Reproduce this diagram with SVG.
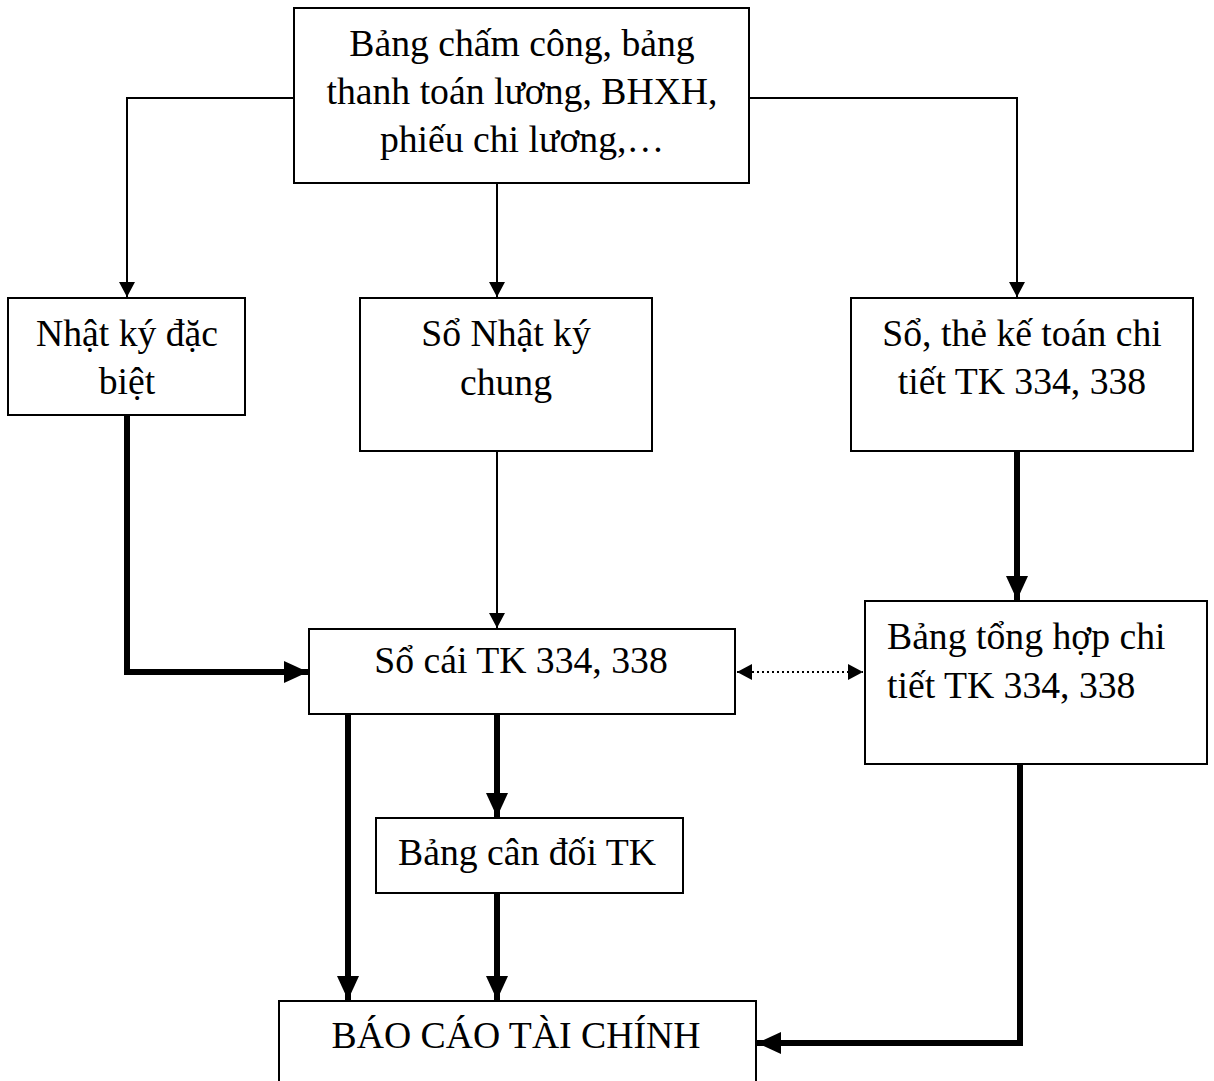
<svg xmlns="http://www.w3.org/2000/svg" width="1214" height="1081" viewBox="0 0 1214 1081">
<style>
.box{fill:#fff;stroke:#000;stroke-width:2}
.t{font-family:"Liberation Serif","Times New Roman",serif;font-size:37.7px;fill:#000}
.c{text-anchor:middle}
.thin{fill:none;stroke:#000;stroke-width:2}
.thick{fill:none;stroke:#000;stroke-width:6}
.dot{fill:none;stroke:#000;stroke-width:2;stroke-dasharray:2 3}
</style>
<defs>
<marker id="a" markerUnits="userSpaceOnUse" markerWidth="16" markerHeight="18" refX="15" refY="9" orient="auto"><path d="M0,1 L15,9 L0,17 Z" fill="#000"/></marker>
<marker id="b" markerUnits="userSpaceOnUse" markerWidth="26" markerHeight="24" refX="24" refY="12" orient="auto"><path d="M0,1 L24,12 L0,23 Z" fill="#000"/></marker>
<marker id="d" markerUnits="userSpaceOnUse" markerWidth="16" markerHeight="18" refX="15" refY="9" orient="auto-start-reverse"><path d="M0,1 L15,9 L0,17 Z" fill="#000"/></marker>
</defs>
<g id="connectors">
<path class="thin" d="M294,98 H127 V297" marker-end="url(#a)"/>
<path class="thin" d="M497,183 V297" marker-end="url(#a)"/>
<path class="thin" d="M749,98 H1017 V297" marker-end="url(#a)"/>
<path class="thick" d="M127,415 V672 H308" marker-end="url(#b)"/>
<path class="thin" d="M497,451 V628" marker-end="url(#a)"/>
<path class="thick" d="M1017,451 V600" marker-end="url(#b)"/>
<path class="dot" d="M737,672 H863" marker-start="url(#d)" marker-end="url(#d)"/>
<path class="thick" d="M348,714 V1000" marker-end="url(#b)"/>
<path class="thick" d="M497,714 V817" marker-end="url(#b)"/>
<path class="thick" d="M497,893 V1000" marker-end="url(#b)"/>
<path class="thick" d="M1020,764 V1043 H757" marker-end="url(#b)"/>
</g>
<g id="n1"><rect class="box" x="294" y="8" width="455" height="175"/>
<text class="t c" x="522" y="56">Bảng chấm công, bảng</text>
<text class="t c" x="522" y="104">thanh toán lương, BHXH,</text>
<text class="t c" x="522" y="152">phiếu chi lương,…</text></g>
<g id="n2"><rect class="box" x="8" y="298" width="237" height="117"/>
<text class="t c" x="127" y="346">Nhật ký đặc</text>
<text class="t c" x="127" y="394">biệt</text></g>
<g id="n3"><rect class="box" x="360" y="298" width="292" height="153"/>
<text class="t c" x="506" y="346">Sổ Nhật ký</text>
<text class="t c" x="506" y="395">chung</text></g>
<g id="n4"><rect class="box" x="851" y="298" width="342" height="153"/>
<text class="t c" x="1022" y="346">Sổ, thẻ kế toán chi</text>
<text class="t c" x="1022" y="394">tiết TK 334, 338</text></g>
<g id="n5"><rect class="box" x="309" y="629" width="426" height="85"/>
<text class="t c" x="521" y="673">Sổ cái TK 334, 338</text></g>
<g id="n6"><rect class="box" x="865" y="601" width="342" height="163"/>
<text class="t" x="887" y="649">Bảng tổng hợp chi</text>
<text class="t" x="887" y="698">tiết TK 334, 338</text></g>
<g id="n7"><rect class="box" x="376" y="818" width="307" height="75"/>
<text class="t c" x="527" y="865">Bảng cân đối TK</text></g>
<g id="n8"><path class="box" d="M279,1090 V1001 H756 V1090"/>
<text class="t c" x="516" y="1048">BÁO CÁO TÀI CHÍNH</text></g>
</svg>
